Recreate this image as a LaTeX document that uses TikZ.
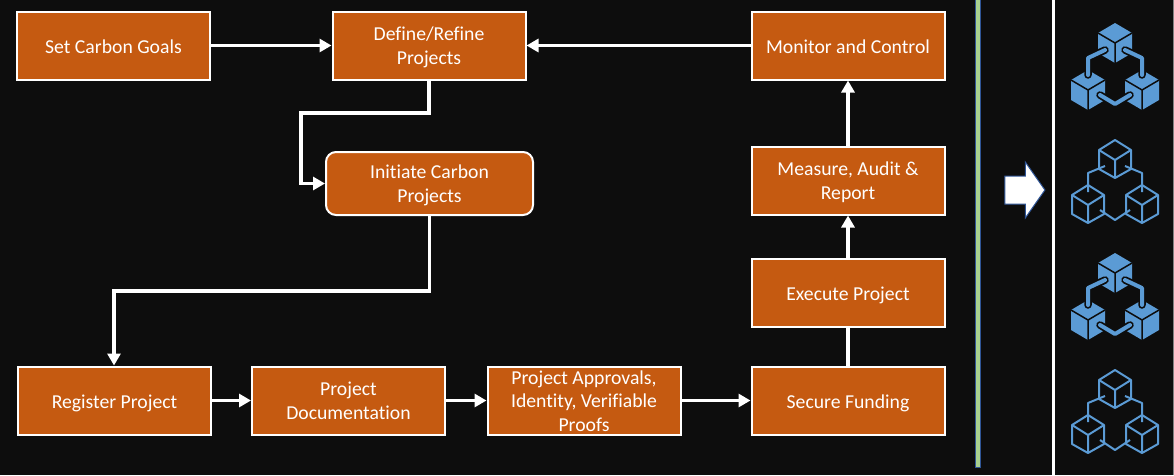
\documentclass[tikz,border=0pt]{standalone}
\usepackage{fontspec}
\setmainfont[Ligatures=NoCommon]{Carlito}
\usepackage{tikz}
\usetikzlibrary{positioning,arrows.meta,shapes.arrows}

\definecolor{pageblack}{HTML}{0D0D0D}
\definecolor{boxorange}{HTML}{C55A11}
\definecolor{iconblue}{HTML}{5B9BD5}
\definecolor{barblue}{HTML}{2F5597}
\definecolor{bargreen}{HTML}{A9D18E}

\tikzset{
  boxbase/.style={draw=white, line width=2pt, fill=boxorange, text=white, font=\fontsize{19.7}{23.5}\selectfont,
    minimum width=193pt, minimum height=68pt, align=center, inner sep=0pt},
  box/.style={boxbase, execute at begin node=\rule{0pt}{#1}, execute at end node=\rule[-5pt]{0pt}{5pt}},
  box/.default=20pt,
  flow/.style={draw=white, line width=3.5pt, -{Triangle[length=12pt,width=13pt]}},
  plainflow/.style={draw=white, line width=3.5pt},
  cubeline/.style={draw=iconblue, line width=2pt, line join=round},
  blockfull/.pic={
    \foreach \dx/\dy in {0/0,-27/47,27/47} {
      \fill[iconblue] (\dx-17,\dy+10) -- (\dx,\dy) -- (\dx+17,\dy+10) -- (\dx+17,\dy+30) -- (\dx,\dy+40) -- (\dx-17,\dy+30) -- cycle;
      \draw[pageblack, line width=1.5pt] (\dx-17,\dy+10) -- (\dx,\dy+20) -- (\dx+17,\dy+10) (\dx,\dy+20) -- (\dx,\dy+40);
    }
    \foreach \wd/\col in {7.5pt/pageblack,4pt/iconblue} {
      \draw[\col, line width=\wd, line cap=round, line join=round] (-27,52) -- (-27,35) -- (-10,27);
      \draw[\col, line width=\wd, line cap=round, line join=round] (27,52) -- (27,35) -- (10,27);
      \draw[\col, line width=\wd, line cap=round, line join=round] (-15,72) -- (0,81) -- (15,72);
    }
  },
  blockline/.pic={
    \foreach \dx/\dy in {0/0,-27/45,27/45} {
      \draw[cubeline] (\dx-16,\dy+10) -- (\dx,\dy) -- (\dx+16,\dy+10) -- (\dx+16,\dy+29) -- (\dx,\dy+38) -- (\dx-16,\dy+29) -- cycle;
      \draw[cubeline] (\dx-16,\dy+10) -- (\dx,\dy+20) -- (\dx+16,\dy+10) (\dx,\dy+20) -- (\dx,\dy+38);
    }
    \draw[cubeline] (-27,52) -- (-27,33) -- (-10,26);
    \draw[cubeline] (27,52) -- (27,33) -- (10,26);
    \draw[cubeline] (-15,70) -- (0,80) -- (15,70);
  }
}

\begin{document}
\begin{tikzpicture}[x=1pt,y=-1pt]
\useasboundingbox (0,0) rectangle (1174,475);
\fill[pageblack] (0,0) rectangle (1174,475);

\node[box](goals) at (113.5,45.5) {Set Carbon Goals};
\node[box=42pt, right=120.5pt of goals](define) {Define/Refine\\Projects};
\node[box, right=224pt of define](monitor) {Monitor and Control};
\node[box=42pt, below=65pt of monitor](measure) {Measure, Audit \&\\Report};
\node[box, below=42pt of measure](execute) {Execute Project};
\node[box, below=38pt of execute](funding) {Secure Funding};
\node[box=42pt, rounded corners=10pt, minimum width=207pt, minimum height=63pt](initiate) at (429.5,183.5) {Initiate Carbon\\Projects};
\node[box](register) at (114.5,400.5) {Register Project};
\node[box=42pt, right=39pt of register](docs) {Project\\Documentation};
\node[boxbase, execute at begin node=\rule{0pt}{62pt}, right=40.5pt of docs](approvals) {Project Approvals,\\Identity, Verifiable\\Proofs};

\coordinate (bendtop) at (301,113);
\coordinate (bendlow) at (114,291);

\draw[flow] (goals) -- (define);
\draw[flow] (monitor) -- (define);
\draw[flow] (define.south) |- (bendtop) |- (initiate.west);
\draw[flow] (initiate.south) |- (bendlow) -- (bendlow |- register.north);
\draw[flow] (register) -- (docs);
\draw[flow] (docs) -- (approvals);
\draw[flow] (approvals) -- (funding);
\draw[plainflow] (funding) -- (execute);
\draw[flow] (execute) -- (measure);
\draw[flow] (measure) -- (monitor);

% side panel
\draw[draw=barblue, fill=bargreen, line width=1pt] (975.5,-2) rectangle (980.5,467);
\fill[white] (1052,0) rectangle (1054.5,475);
\fill[gray] (1172.5,0) rectangle (1174,475);
\node[single arrow, draw=barblue, fill=white, line width=1pt, text width=1pt, text height=27pt, text depth=0pt,
  minimum height=40pt, single arrow head extend=14pt, single arrow tip angle=110, inner sep=0pt](move) at (1020,190) {};

\pic at (1115,23) {blockfull};
\pic at (1115,140) {blockline};
\pic at (1115,253) {blockfull};
\pic at (1115,370) {blockline};
\end{tikzpicture}
\end{document}
